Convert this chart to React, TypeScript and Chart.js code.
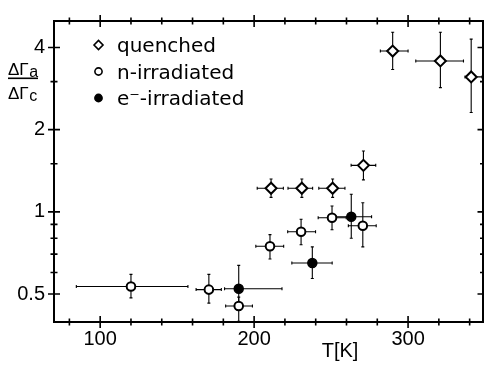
import React, { useEffect, useRef } from "react";
import { Chart, registerables } from "chart.js";

Chart.register(...registerables);

// ---------- data ----------
const quenchedT = [211, 231, 251, 271, 290, 321, 341];
const quenchedTLow = [202, 222, 242, 263, 282, 305, 337];
const quenchedTHigh = [219, 238, 259, 279, 300, 336, 348];
const quenchedR = [1.22, 1.22, 1.22, 1.48, 3.88, 3.57, 3.12];
const quenchedRLow = [1.13, 1.13, 1.13, 1.31, 3.32, 2.85, 2.31];
const quenchedRHigh = [1.32, 1.32, 1.32, 1.67, 4.55, 4.55, 4.29];

const nIrrT = [120, 170.6, 190, 210.3, 230.5, 250.6, 270.6];
const nIrrTLow = [84.5, 162.3, 181.5, 201.1, 221.8, 241.6, 261.2];
const nIrrTHigh = [157, 178.7, 198.9, 219.2, 239.9, 259.8, 279.3];
const nIrrR = [0.533, 0.519, 0.452, 0.748, 0.845, 0.952, 0.889];
const nIrrRLow = [0.484, 0.463, 0.397, 0.672, 0.758, 0.86, 0.744];
const nIrrRHigh = [0.59, 0.59, 0.487, 0.825, 0.94, 1.05, 1.08];

const eIrrT = [190, 237.8, 263.1];
const eIrrTLow = [180.8, 224.5, 253.3];
const eIrrTHigh = [218.1, 250.7, 276.3];
const eIrrR = [0.523, 0.65, 0.96];
const eIrrRLow = [0.445, 0.57, 0.8];
const eIrrRHigh = [0.637, 0.744, 1.16];

const seriesLabels = ["quenched", "n-irradiated", "e\u207B-irradiated"];

const xMajorTicks = [100, 200, 300];
const xTickLabels = ["100", "200", "300"];
const xMinorTicks = [80, 120, 140, 160, 180, 220, 240, 260, 280, 320, 340];
const yMajorTicks = [0.5, 1, 2, 4];
const yTickLabels = ["0.5", "1", "2", "4"];
const yMinorTicks = [0.6, 0.7, 0.8, 0.9, 1.5, 3];

const xAxisTitle = "T[K]";
const yTitleTop = ["\u0394\u0393", "a"];
const yTitleBottom = ["\u0394\u0393", "c"];

const errorData = [
  { tl: quenchedTLow, th: quenchedTHigh, rl: quenchedRLow, rh: quenchedRHigh },
  { tl: nIrrTLow, th: nIrrTHigh, rl: nIrrRLow, rh: nIrrRHigh },
  { tl: eIrrTLow, th: eIrrTHigh, rl: eIrrRLow, rh: eIrrRHigh },
];

const TICK_FONT = "Liberation Sans";
const LEGEND_FONT = "DejaVu Sans";

const bgPlugin = {
  id: "bg",
  beforeDraw(chart: any) {
    const ctx = chart.ctx;
    ctx.save();
    ctx.fillStyle = "#fff";
    ctx.fillRect(0, 0, chart.width, chart.height);
    ctx.restore();
  },
};

const errorBarPlugin = {
  id: "errorBars",
  beforeDatasetsDraw(chart: any) {
    const ctx = chart.ctx;
    const xs = chart.scales.x;
    const ys = chart.scales.y;
    ctx.save();
    ctx.strokeStyle = "#000";
    ctx.lineWidth = 1.1;
    chart.data.datasets.forEach((ds: any, i: number) => {
      const e = errorData[i];
      ds.data.forEach((p: any, j: number) => {
        const cx = xs.getPixelForValue(p.x);
        const cy = ys.getPixelForValue(p.y);
        const x0 = xs.getPixelForValue(e.tl[j]);
        const x1 = xs.getPixelForValue(e.th[j]);
        const y0 = Math.min(ys.getPixelForValue(e.rl[j]), chart.chartArea.bottom);
        const y1 = ys.getPixelForValue(e.rh[j]);
        ctx.beginPath();
        ctx.moveTo(x0, cy);
        ctx.lineTo(x1, cy);
        ctx.moveTo(cx, y0);
        ctx.lineTo(cx, y1);
        ctx.moveTo(x0, cy - 1.5);
        ctx.lineTo(x0, cy + 1.5);
        ctx.moveTo(x1, cy - 1.5);
        ctx.lineTo(x1, cy + 1.5);
        ctx.moveTo(cx - 1.5, y1);
        ctx.lineTo(cx + 1.5, y1);
        ctx.moveTo(cx - 1.5, y0);
        ctx.lineTo(cx + 1.5, y0);
        ctx.stroke();
      });
    });
    ctx.restore();
  },
};

const framePlugin = {
  id: "frame",
  afterDraw(chart: any) {
    const ctx = chart.ctx;
    const { left, right, top, bottom } = chart.chartArea;
    const xs = chart.scales.x;
    const ys = chart.scales.y;
    ctx.save();
    ctx.strokeStyle = "#000";
    ctx.lineWidth = 2;
    ctx.beginPath();
    ctx.moveTo(left, top);
    ctx.lineTo(right - 0.5, top);
    ctx.lineTo(right - 0.5, bottom);
    ctx.lineTo(left, bottom);
    ctx.closePath();
    ctx.stroke();

    ctx.lineWidth = 1.6;
    ctx.beginPath();
    const xt = (v: number, major: boolean) => {
      const px = xs.getPixelForValue(v);
      const h = major ? 6 : 3.5;
      ctx.moveTo(px, bottom - h);
      ctx.lineTo(px, bottom + h);
      ctx.moveTo(px, top - h);
      ctx.lineTo(px, top + h);
    };
    xMajorTicks.forEach((v) => xt(v, true));
    xMinorTicks.forEach((v) => xt(v, false));
    const yt = (v: number, major: boolean) => {
      const py = ys.getPixelForValue(v);
      const h = major ? 6 : 3.5;
      ctx.moveTo(left - h, py);
      ctx.lineTo(left + h, py);
      ctx.moveTo(right - h, py);
      ctx.lineTo(right, py);
    };
    yMajorTicks.forEach((v) => yt(v, true));
    yMinorTicks.forEach((v) => yt(v, false));
    ctx.stroke();

    // x-axis title
    ctx.fillStyle = "#000";
    ctx.font = `20px "${TICK_FONT}"`;
    ctx.textAlign = "center";
    ctx.textBaseline = "alphabetic";
    ctx.fillText(xAxisTitle, 340, 357);

    // y-axis title (fraction)
    ctx.textAlign = "left";
    const drawPart = (parts: string[], base: number) => {
      ctx.font = `17px "${TICK_FONT}"`;
      ctx.fillText(parts[0], 8, base);
      const w = ctx.measureText(parts[0]).width;
      ctx.font = `16px "${TICK_FONT}"`;
      ctx.fillText(parts[1], 8 + w + 0.5, base + 2);
    };
    drawPart(yTitleTop, 75);
    ctx.fillRect(8, 77.5, 30, 1.6);
    drawPart(yTitleBottom, 99);

    // legend
    chart.data.datasets.forEach((ds: any, i: number) => {
      const my = 45 + i * 26.5;
      const mx = 98.5;
      ctx.save();
      ctx.lineWidth = 1.6;
      ctx.strokeStyle = "#000";
      ctx.fillStyle = ds.backgroundColor;
      ctx.beginPath();
      if (ds.pointStyle === "rectRot") {
        const r = 4.5;
        ctx.moveTo(mx - r, my);
        ctx.lineTo(mx, my - r);
        ctx.lineTo(mx + r, my);
        ctx.lineTo(mx, my + r);
        ctx.closePath();
      } else {
        ctx.arc(mx, my, 3.6, 0, Math.PI * 2);
      }
      ctx.fill();
      ctx.stroke();
      ctx.restore();
      ctx.fillStyle = "#000";
      ctx.font = `20px "${LEGEND_FONT}"`;
      ctx.textAlign = "left";
      ctx.fillText(ds.label, 117, my + 7);
    });
    ctx.restore();
  },
};

export default function App() {
  const ref = useRef<HTMLCanvasElement | null>(null);
  useEffect(() => {
    if (!ref.current) return;
    const mk = (xa: number[], ya: number[]) => xa.map((x, i) => ({ x, y: ya[i] }));
    const chart = new Chart(ref.current, {
      type: "scatter",
      data: {
        datasets: [
          {
            label: seriesLabels[0],
            data: mk(quenchedT, quenchedR),
            pointStyle: "rectRot",
            pointRadius: 5.5,
            backgroundColor: "#fff",
            borderColor: "#000",
            borderWidth: 2,
          },
          {
            label: seriesLabels[1],
            data: mk(nIrrT, nIrrR),
            pointStyle: "circle",
            pointRadius: 4.3,
            backgroundColor: "#fff",
            borderColor: "#000",
            borderWidth: 2,
          },
          {
            label: seriesLabels[2],
            data: mk(eIrrT, eIrrR),
            pointStyle: "circle",
            pointRadius: 4.5,
            backgroundColor: "#000",
            borderColor: "#000",
            borderWidth: 1.5,
          },
        ] as any,
      },
      options: {
        animation: false,
        responsive: false,
        events: [],
        layout: { padding: { top: 8, right: 1, left: 0, bottom: 0 } },
        plugins: {
          legend: { display: false },
          tooltip: { enabled: false },
        },
        scales: {
          x: {
            type: "linear",
            min: 70,
            max: 349,
            position: "bottom",
            grid: { display: false, drawTicks: false },
            border: { display: false },
            ticks: {
              color: "#000",
              font: { family: TICK_FONT, size: 20 },
              padding: 5,
              maxRotation: 0,
              callback: (v: any) => {
                const i = xMajorTicks.indexOf(Number(v));
                return i >= 0 ? xTickLabels[i] : "";
              },
            },
            afterBuildTicks: (s: any) => {
              s.ticks = xMajorTicks.map((v) => ({ value: v }));
            },
            afterFit: (s: any) => {
              s.height = 43;
            },
          },
          y: {
            type: "logarithmic",
            min: 0.395,
            max: 5,
            grid: { display: false, drawTicks: false },
            border: { display: false },
            ticks: {
              color: "#000",
              font: { family: TICK_FONT, size: 20 },
              padding: 9,
              callback: (v: any) => {
                const i = yMajorTicks.indexOf(Number(v));
                return i >= 0 ? yTickLabels[i] : "";
              },
            },
            afterBuildTicks: (s: any) => {
              s.ticks = yMajorTicks.map((v) => ({ value: v }));
            },
            afterFit: (s: any) => {
              s.width = 54;
            },
          },
        },
      } as any,
      plugins: [bgPlugin, errorBarPlugin, framePlugin],
    });
    return () => chart.destroy();
  }, []);
  return (
    <div style={{ position: "absolute", left: 0, top: 0, width: 491, height: 365, background: "#fff" }}>
      <canvas ref={ref} width={491} height={365} style={{ display: "block", width: 491, height: 365 }} />
    </div>
  );
}
